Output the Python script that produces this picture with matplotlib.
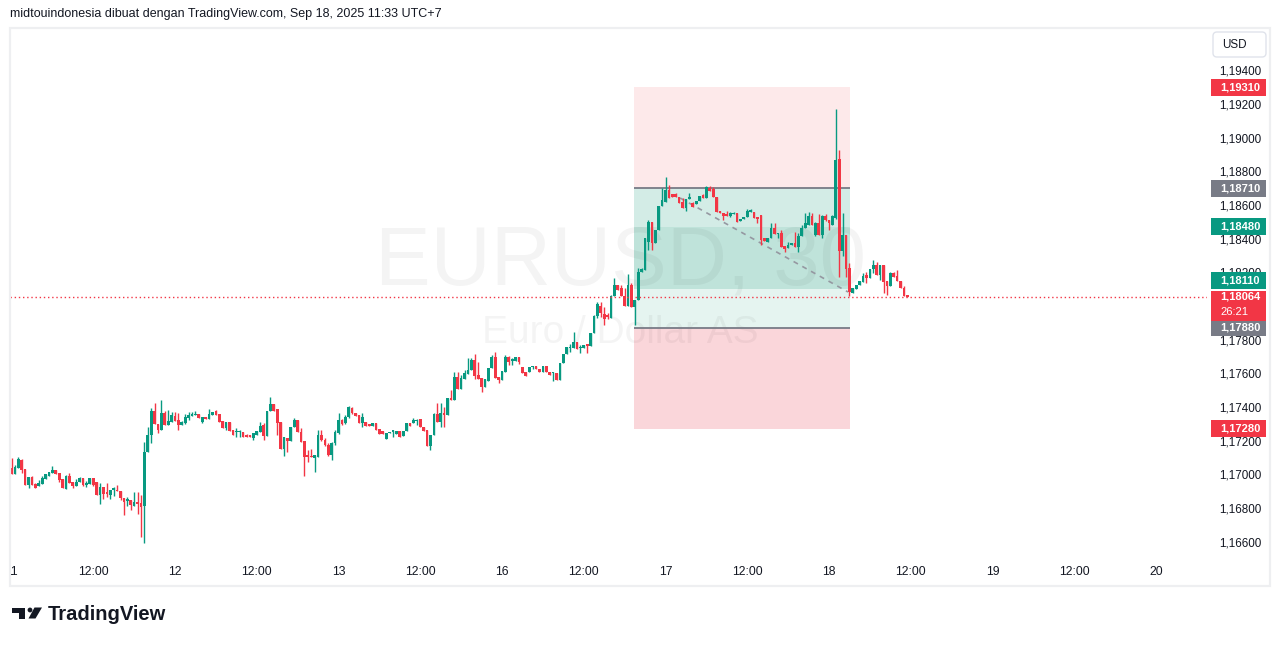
"""EURUSD 30 minute chart with a position tool, redrawn with matplotlib."""

import matplotlib

matplotlib.use("Agg")
import matplotlib.pyplot as plt
import numpy as np
from matplotlib.patches import Circle, FancyBboxPatch, Polygon, Rectangle

plt.rcParams["font.family"] = ["Liberation Sans", "DejaVu Sans"]

# 30 minute bars, 11 Sep 00:00 .. 18 Sep 11:30 (UTC+7), one row = 8 bars
opens = [
    1.17044, 1.17011, 1.17044, 1.17094, 1.17040, 1.16945, 1.16991, 1.16951,
    1.16941, 1.16951, 1.16981, 1.17001, 1.17017, 1.17036, 1.17017, 1.16983,
    1.16921, 1.16999, 1.16963, 1.16941, 1.16961, 1.16987, 1.16945, 1.16953,
    1.16987, 1.16965, 1.16888, 1.16930, 1.16896, 1.16888, 1.16918, 1.16916,
    1.16910, 1.16870, 1.16852, 1.16856, 1.16820, 1.16840, 1.16836, 1.16820,
    1.17143, 1.17242, 1.17385, 1.17306, 1.17272, 1.17371, 1.17302, 1.17321,
    1.17355, 1.17331, 1.17302, 1.17315, 1.17345, 1.17357, 1.17361, 1.17365,
    1.17321, 1.17351, 1.17337, 1.17363, 1.17385, 1.17367, 1.17327, 1.17282,
    1.17319, 1.17272, 1.17258, 1.17258, 1.17258, 1.17242, 1.17242, 1.17222,
    1.17242, 1.17262, 1.17302, 1.17236, 1.17385, 1.17426, 1.17397, 1.17317,
    1.17159, 1.17226, 1.17206, 1.17292, 1.17331, 1.17262, 1.17206, 1.17118,
    1.17118, 1.17108, 1.17114, 1.17242, 1.17213, 1.17183, 1.17124, 1.17193,
    1.17256, 1.17331, 1.17312, 1.17351, 1.17405, 1.17375, 1.17361, 1.17312,
    1.17321, 1.17306, 1.17298, 1.17315, 1.17278, 1.17268, 1.17217, 1.17252,
    1.17262, 1.17248, 1.17268, 1.17238, 1.17268, 1.17315, 1.17315, 1.17327,
    1.17335, 1.17292, 1.17272, 1.17179, 1.17242, 1.17365, 1.17321, 1.17371,
    1.17361, 1.17460, 1.17450, 1.17589, 1.17516, 1.17573, 1.17603, 1.17628,
    1.17688, 1.17599, 1.17579, 1.17529, 1.17565, 1.17642, 1.17708, 1.17589,
    1.17569, 1.17618, 1.17704, 1.17684, 1.17684, 1.17704, 1.17648, 1.17618,
    1.17618, 1.17644, 1.17652, 1.17634, 1.17615, 1.17652, 1.17618, 1.17609,
    1.17613, 1.17569, 1.17668, 1.17723, 1.17757, 1.17757, 1.17793, 1.17757,
    1.17757, 1.17777, 1.17773, 1.17846, 1.17950, 1.18009, 1.17962, 1.17956,
    1.17940, 1.18069, 1.18134, 1.18114, 1.18069, 1.18009, 1.18134, 1.18001,
    1.18045, 1.18213, 1.18223, 1.18391, 1.18510, 1.18385, 1.18461, 1.18603,
    1.18629, 1.18698, 1.18674, 1.18672, 1.18655, 1.18629, 1.18589, 1.18643,
    1.18619, 1.18613, 1.18633, 1.18668, 1.18649, 1.18708, 1.18704, 1.18659,
    1.18575, 1.18564, 1.18550, 1.18546, 1.18554, 1.18560, 1.18516, 1.18524,
    1.18536, 1.18569, 1.18569, 1.18540, 1.18550, 1.18411, 1.18391, 1.18411,
    1.18470, 1.18437, 1.18445, 1.18366, 1.18352, 1.18371, 1.18385, 1.18358,
    1.18425, 1.18470, 1.18490, 1.18544, 1.18431, 1.18500, 1.18432, 1.18545,
    1.18521, 1.18491, 1.18531, 1.18883, 1.18333, 1.18432, 1.18234, 1.18089,
    1.18111, 1.18131, 1.18149, 1.18194, 1.18174, 1.18228, 1.18250, 1.18194,
    1.18250, 1.18155, 1.18129, 1.18208, 1.18188, 1.18159, 1.18115, 1.18075,
]
highs = [
    1.17108, 1.17064, 1.17114, 1.17100, 1.17040, 1.16991, 1.17001, 1.16955,
    1.16975, 1.16999, 1.17009, 1.17021, 1.17058, 1.17036, 1.17017, 1.16983,
    1.17005, 1.17015, 1.16963, 1.16981, 1.16991, 1.16987, 1.16967, 1.16987,
    1.16987, 1.16965, 1.16955, 1.16930, 1.16957, 1.16916, 1.16935, 1.16945,
    1.16910, 1.16870, 1.16872, 1.16856, 1.16902, 1.16902, 1.16886, 1.17203,
    1.17292, 1.17401, 1.17430, 1.17306, 1.17450, 1.17385, 1.17391, 1.17381,
    1.17381, 1.17371, 1.17327, 1.17367, 1.17377, 1.17377, 1.17387, 1.17365,
    1.17347, 1.17351, 1.17395, 1.17379, 1.17391, 1.17367, 1.17327, 1.17319,
    1.17319, 1.17272, 1.17282, 1.17272, 1.17258, 1.17248, 1.17242, 1.17252,
    1.17268, 1.17321, 1.17312, 1.17385, 1.17470, 1.17426, 1.17397, 1.17317,
    1.17228, 1.17226, 1.17292, 1.17341, 1.17331, 1.17282, 1.17206, 1.17153,
    1.17157, 1.17124, 1.17272, 1.17272, 1.17225, 1.17197, 1.17200, 1.17270,
    1.17371, 1.17335, 1.17360, 1.17415, 1.17410, 1.17375, 1.17361, 1.17371,
    1.17321, 1.17306, 1.17315, 1.17315, 1.17278, 1.17268, 1.17256, 1.17262,
    1.17272, 1.17268, 1.17268, 1.17268, 1.17315, 1.17315, 1.17341, 1.17335,
    1.17335, 1.17292, 1.17272, 1.17242, 1.17371, 1.17430, 1.17430, 1.17411,
    1.17460, 1.17510, 1.17618, 1.17615, 1.17599, 1.17628, 1.17698, 1.17698,
    1.17723, 1.17678, 1.17579, 1.17573, 1.17642, 1.17717, 1.17737, 1.17589,
    1.17622, 1.17717, 1.17713, 1.17698, 1.17704, 1.17708, 1.17648, 1.17618,
    1.17644, 1.17654, 1.17652, 1.17634, 1.17652, 1.17652, 1.17618, 1.17618,
    1.17613, 1.17672, 1.17723, 1.17763, 1.17783, 1.17856, 1.17793, 1.17777,
    1.17777, 1.17777, 1.17846, 1.17955, 1.18035, 1.18035, 1.18005, 1.17966,
    1.18075, 1.18173, 1.18134, 1.18134, 1.18114, 1.18199, 1.18144, 1.18045,
    1.18233, 1.18233, 1.18411, 1.18520, 1.18510, 1.18461, 1.18603, 1.18708,
    1.18777, 1.18728, 1.18674, 1.18678, 1.18655, 1.18649, 1.18643, 1.18678,
    1.18625, 1.18633, 1.18663, 1.18674, 1.18722, 1.18722, 1.18718, 1.18659,
    1.18575, 1.18564, 1.18575, 1.18566, 1.18569, 1.18560, 1.18526, 1.18536,
    1.18583, 1.18583, 1.18569, 1.18540, 1.18550, 1.18411, 1.18411, 1.18500,
    1.18500, 1.18445, 1.18461, 1.18366, 1.18391, 1.18385, 1.18451, 1.18440,
    1.18490, 1.18560, 1.18569, 1.18564, 1.18510, 1.18556, 1.18550, 1.18557,
    1.18521, 1.18551, 1.19180, 1.18937, 1.18560, 1.18432, 1.18263, 1.18115,
    1.18135, 1.18155, 1.18204, 1.18214, 1.18230, 1.18283, 1.18273, 1.18250,
    1.18250, 1.18155, 1.18214, 1.18214, 1.18224, 1.18159, 1.18125, 1.18075,
]
lows = [
    1.17011, 1.17011, 1.17044, 1.17019, 1.16945, 1.16927, 1.16945, 1.16929,
    1.16939, 1.16951, 1.16979, 1.17001, 1.17017, 1.17013, 1.16965, 1.16929,
    1.16921, 1.16959, 1.16929, 1.16941, 1.16961, 1.16939, 1.16935, 1.16953,
    1.16939, 1.16888, 1.16832, 1.16862, 1.16872, 1.16864, 1.16880, 1.16910,
    1.16856, 1.16767, 1.16817, 1.16797, 1.16820, 1.16773, 1.16638, 1.16599,
    1.17143, 1.17197, 1.17306, 1.17252, 1.17272, 1.17302, 1.17302, 1.17321,
    1.17325, 1.17272, 1.17302, 1.17307, 1.17331, 1.17357, 1.17361, 1.17341,
    1.17315, 1.17337, 1.17337, 1.17363, 1.17363, 1.17321, 1.17282, 1.17272,
    1.17268, 1.17242, 1.17232, 1.17232, 1.17232, 1.17232, 1.17228, 1.17212,
    1.17242, 1.17262, 1.17212, 1.17236, 1.17385, 1.17387, 1.17242, 1.17159,
    1.17117, 1.17143, 1.17206, 1.17292, 1.17262, 1.17203, 1.17001, 1.17084,
    1.17112, 1.17025, 1.17110, 1.17205, 1.17175, 1.17120, 1.17094, 1.17185,
    1.17250, 1.17300, 1.17305, 1.17345, 1.17365, 1.17355, 1.17312, 1.17288,
    1.17298, 1.17298, 1.17298, 1.17272, 1.17248, 1.17248, 1.17217, 1.17252,
    1.17232, 1.17248, 1.17232, 1.17238, 1.17268, 1.17298, 1.17315, 1.17302,
    1.17292, 1.17268, 1.17179, 1.17153, 1.17242, 1.17321, 1.17292, 1.17292,
    1.17361, 1.17450, 1.17450, 1.17516, 1.17516, 1.17573, 1.17603, 1.17628,
    1.17573, 1.17575, 1.17500, 1.17529, 1.17565, 1.17642, 1.17579, 1.17553,
    1.17569, 1.17618, 1.17658, 1.17658, 1.17684, 1.17662, 1.17613, 1.17595,
    1.17618, 1.17634, 1.17634, 1.17615, 1.17615, 1.17618, 1.17599, 1.17565,
    1.17569, 1.17569, 1.17668, 1.17723, 1.17737, 1.17757, 1.17753, 1.17731,
    1.17757, 1.17731, 1.17773, 1.17846, 1.17940, 1.17946, 1.17896, 1.17930,
    1.17935, 1.18069, 1.18104, 1.18069, 1.18009, 1.18009, 1.18001, 1.17896,
    1.18045, 1.18210, 1.18223, 1.18342, 1.18342, 1.18385, 1.18461, 1.18603,
    1.18629, 1.18649, 1.18655, 1.18655, 1.18619, 1.18589, 1.18575, 1.18643,
    1.18595, 1.18613, 1.18633, 1.18649, 1.18649, 1.18694, 1.18659, 1.18569,
    1.18564, 1.18520, 1.18546, 1.18536, 1.18554, 1.18510, 1.18516, 1.18524,
    1.18536, 1.18569, 1.18530, 1.18504, 1.18371, 1.18397, 1.18391, 1.18411,
    1.18437, 1.18411, 1.18362, 1.18332, 1.18352, 1.18371, 1.18358, 1.18332,
    1.18425, 1.18470, 1.18490, 1.18490, 1.18425, 1.18431, 1.18416, 1.18515,
    1.18461, 1.18491, 1.18525, 1.18184, 1.18309, 1.18184, 1.18071, 1.18085,
    1.18111, 1.18131, 1.18149, 1.18144, 1.18174, 1.18204, 1.18194, 1.18164,
    1.18085, 1.18075, 1.18129, 1.18184, 1.18155, 1.18115, 1.18071, 1.18064,
]
closes = [
    1.17011, 1.17050, 1.17100, 1.17034, 1.16945, 1.16991, 1.16945, 1.16929,
    1.16957, 1.16989, 1.17009, 1.17021, 1.17036, 1.17013, 1.16975, 1.16929,
    1.17001, 1.16959, 1.16939, 1.16961, 1.16987, 1.16945, 1.16959, 1.16987,
    1.16945, 1.16888, 1.16930, 1.16894, 1.16894, 1.16916, 1.16922, 1.16910,
    1.16870, 1.16846, 1.16856, 1.16824, 1.16844, 1.16834, 1.16813, 1.17143,
    1.17242, 1.17385, 1.17306, 1.17272, 1.17371, 1.17302, 1.17327, 1.17361,
    1.17325, 1.17302, 1.17321, 1.17351, 1.17361, 1.17363, 1.17365, 1.17341,
    1.17347, 1.17337, 1.17367, 1.17379, 1.17363, 1.17321, 1.17282, 1.17319,
    1.17268, 1.17242, 1.17262, 1.17262, 1.17232, 1.17232, 1.17228, 1.17252,
    1.17268, 1.17296, 1.17236, 1.17385, 1.17426, 1.17387, 1.17312, 1.17159,
    1.17228, 1.17206, 1.17292, 1.17331, 1.17262, 1.17203, 1.17114, 1.17114,
    1.17112, 1.17124, 1.17242, 1.17213, 1.17183, 1.17124, 1.17193, 1.17262,
    1.17331, 1.17308, 1.17351, 1.17407, 1.17371, 1.17355, 1.17312, 1.17347,
    1.17298, 1.17298, 1.17315, 1.17272, 1.17248, 1.17248, 1.17256, 1.17262,
    1.17268, 1.17268, 1.17232, 1.17268, 1.17315, 1.17298, 1.17331, 1.17331,
    1.17292, 1.17268, 1.17179, 1.17242, 1.17365, 1.17321, 1.17371, 1.17361,
    1.17460, 1.17450, 1.17589, 1.17516, 1.17579, 1.17609, 1.17628, 1.17688,
    1.17595, 1.17575, 1.17529, 1.17573, 1.17642, 1.17708, 1.17579, 1.17569,
    1.17622, 1.17708, 1.17674, 1.17692, 1.17704, 1.17674, 1.17613, 1.17595,
    1.17644, 1.17648, 1.17634, 1.17615, 1.17652, 1.17618, 1.17599, 1.17613,
    1.17569, 1.17672, 1.17723, 1.17763, 1.17763, 1.17793, 1.17753, 1.17763,
    1.17777, 1.17773, 1.17846, 1.17950, 1.18020, 1.17966, 1.17930, 1.17942,
    1.18069, 1.18134, 1.18104, 1.18069, 1.18009, 1.18134, 1.18001, 1.18045,
    1.18213, 1.18229, 1.18411, 1.18510, 1.18385, 1.18461, 1.18603, 1.18639,
    1.18698, 1.18649, 1.18655, 1.18655, 1.18619, 1.18589, 1.18643, 1.18659,
    1.18595, 1.18633, 1.18663, 1.18649, 1.18714, 1.18694, 1.18659, 1.18569,
    1.18564, 1.18546, 1.18546, 1.18560, 1.18564, 1.18510, 1.18526, 1.18536,
    1.18575, 1.18579, 1.18530, 1.18524, 1.18401, 1.18397, 1.18411, 1.18470,
    1.18437, 1.18445, 1.18362, 1.18346, 1.18371, 1.18385, 1.18358, 1.18425,
    1.18470, 1.18500, 1.18544, 1.18490, 1.18500, 1.18431, 1.18545, 1.18521,
    1.18501, 1.18541, 1.18877, 1.18333, 1.18432, 1.18230, 1.18095, 1.18115,
    1.18135, 1.18155, 1.18190, 1.18174, 1.18230, 1.18250, 1.18194, 1.18250,
    1.18149, 1.18125, 1.18208, 1.18184, 1.18155, 1.18115, 1.18071, 1.18064,
]

time_labels = ["11", "12:00", "12", "12:00", "13", "12:00", "16", "12:00",
               "17", "12:00", "18", "12:00", "19", "12:00", "20"]
bars_per_label = 24

price_ticks = [1.166, 1.168, 1.170, 1.172, 1.174, 1.176, 1.178, 1.180,
               1.182, 1.184, 1.186, 1.188, 1.190, 1.192, 1.194]

# position tool (levels and the bar span of the drawing)
zone_levels = [1.19310, 1.18710, 1.18480, 1.18110, 1.17880, 1.17280]
zone_colors = ["#fde9ea", "#d3ece6", "#bfe3da", "#e5f4f0", "#fad6da"]
entry_lines = [1.18710, 1.17880]
box_bars = [182.8, 246.3]
trend_bars = [196.3, 245.6]
trend_prices = [1.18651, 1.18092]

label_prices = [1.19310, 1.18710, 1.18480, 1.18110, 1.17880, 1.17280]
label_colors = ["#f23645", "#787b86", "#089981", "#089981", "#787b86", "#f23645"]
label_shift_px = [0, 0, 0, 8, 0, 0]

last_price = 1.18064
countdown = "26:21"

header = "midtouindonesia dibuat dengan TradingView.com, Sep 18, 2025 11:33 UTC+7"

GREEN = "#089981"
RED = "#f23645"
TEXT = "#131722"

W, H = 1281, 646
PANE = (10, 28, 1207, 558)
BAR0_PX = 11.5
BAR_PX = 163.5 / 48
PRICE_PX = ((1.194, 72), (1.166, 543))


def fig_rect(left, top, right, bottom):
    """Axes rectangle in figure fractions from pixel edges."""
    return [left / W, 1 - bottom / H, (right - left) / W, (bottom - top) / H]


def price_fmt(p):
    return f"{p:.5f}".replace(".", ",")


def main():
    (p_hi, y_hi), (p_lo, y_lo) = PRICE_PX
    ppu = (y_lo - y_hi) / (p_hi - p_lo)
    ymax = p_hi + (y_hi - PANE[1]) / ppu
    ymin = p_lo - (PANE[3] - y_lo) / ppu
    xmin = (PANE[0] - BAR0_PX) / BAR_PX
    xmax = (PANE[2] - BAR0_PX) / BAR_PX

    fig = plt.figure(figsize=(W / 100, H / 100), dpi=100)
    fig.patch.set_facecolor("white")

    ax = fig.add_axes(fig_rect(*PANE))
    ax.set_xlim(xmin, xmax)
    ax.set_ylim(ymin, ymax)
    ax.axis("off")

    # watermark
    ax.text(0.51, 0.558, "EURUSD, 30", transform=ax.transAxes, ha="center",
            va="center", fontsize=60, color="black", alpha=0.045, zorder=1.5)
    ax.text(0.51, 0.4245, "Euro / Dollar AS", transform=ax.transAxes,
            ha="center", va="center", fontsize=28, color="black", alpha=0.045,
            zorder=1.5)

    # position tool zones
    for top, bottom, color in zip(zone_levels[:-1], zone_levels[1:], zone_colors):
        ax.add_patch(Rectangle((box_bars[0], bottom), box_bars[1] - box_bars[0],
                               top - bottom, facecolor=color, lw=0, zorder=1))
    ax.hlines(entry_lines, box_bars[0], box_bars[1], color="#787b86", lw=1.3,
              zorder=2)
    ax.plot(trend_bars, trend_prices, color="#9598a1", lw=1.2,
            dashes=(3, 3), zorder=2)

    # candles
    o = np.array(opens)
    h = np.array(highs)
    lo = np.array(lows)
    c = np.array(closes)
    x = np.arange(len(c))
    colors = np.where(c >= o, GREEN, RED)
    ax.vlines(x, lo, h, colors=colors, lw=1.0, zorder=3)
    body = np.maximum(np.abs(c - o), 1.2 / ppu)
    ax.bar(x, body, bottom=np.minimum(o, c), width=0.8, color=colors,
           lw=0, zorder=4)

    ax.axhline(last_price, color=RED, lw=1, ls=(0, (1, 2)), zorder=5)

    # price scale
    sax = fig.add_axes(fig_rect(PANE[2], PANE[1], 1270, PANE[3]))
    sax.set_xlim(PANE[2], 1270)
    sax.set_ylim(ymin, ymax)
    sax.axis("off")
    last_top = last_price + 6 / ppu
    last_bottom = last_price - 24 / ppu
    for p in price_ticks:
        if last_bottom < p < last_top:
            continue  # fully covered by the live price box
        sax.text(1219, p, price_fmt(p), ha="left", va="center", fontsize=8.4,
                 color=TEXT, zorder=2)
    box_h = 17 / ppu
    for p, color, shift in zip(label_prices, label_colors, label_shift_px):
        yc = p + shift / ppu
        sax.add_patch(Rectangle((1211, yc - box_h / 2), 55, box_h,
                                facecolor=color, lw=0, zorder=3))
        sax.text(1220, yc, price_fmt(p), ha="left", va="center", fontsize=8,
                 fontweight="bold", color="white", zorder=4)
    sax.add_patch(Rectangle((1211, last_bottom), 55, last_top - last_bottom,
                            facecolor=RED, lw=0, zorder=3))
    sax.text(1220, last_price, price_fmt(last_price), ha="left", va="center",
             fontsize=8, fontweight="bold", color="white", zorder=4)
    sax.text(1220, last_price - 15 / ppu, countdown, ha="left", va="center",
             fontsize=8, color="white", zorder=4)

    # time scale
    tax = fig.add_axes(fig_rect(PANE[0], PANE[3], PANE[2], 585))
    tax.set_xlim(xmin, xmax)
    tax.set_ylim(0, 1)
    tax.axis("off")
    for i, label in enumerate(time_labels):
        tax.text(i * bars_per_label, 0.48, label, ha="center", va="center",
                 fontsize=8.8, color=TEXT, clip_on=True)

    # figure decorations in pixel coordinates
    ov = fig.add_axes([0, 0, 1, 1])
    ov.set_xlim(0, W)
    ov.set_ylim(H, 0)
    ov.axis("off")
    ov.add_patch(Rectangle((10, 28), 1260, 558, fill=False,
                           edgecolor="#eeeff1", lw=1.6))
    ov.text(10, 14, header, ha="left", va="center", fontsize=9, color=TEXT)
    ov.add_patch(FancyBboxPatch((1213, 32), 53, 25,
                                boxstyle="round,pad=0,rounding_size=4",
                                facecolor="white", edgecolor="#e0e3eb", lw=1))
    ov.text(1222, 44.5, "USD", ha="left", va="center", fontsize=8.4, color=TEXT)

    # TradingView logo
    ov.add_patch(Rectangle((12, 607.5), 13, 5, facecolor="#131722", lw=0))
    ov.add_patch(Rectangle((18.5, 607.5), 6.5, 11, facecolor="#131722", lw=0))
    ov.add_patch(Circle((30, 610), 2.4, facecolor="#131722", lw=0))
    ov.add_patch(Polygon([(34.5, 607.5), (42, 607.5), (35.5, 618.5), (28.5, 618.5)],
                         closed=True, facecolor="#131722", lw=0))
    ov.text(48, 614, "TradingView", ha="left", va="center", fontsize=14.5,
            fontweight="bold", color="#131722")

    fig.savefig("out.png", dpi=100, facecolor="white")


if __name__ == "__main__":
    main()
